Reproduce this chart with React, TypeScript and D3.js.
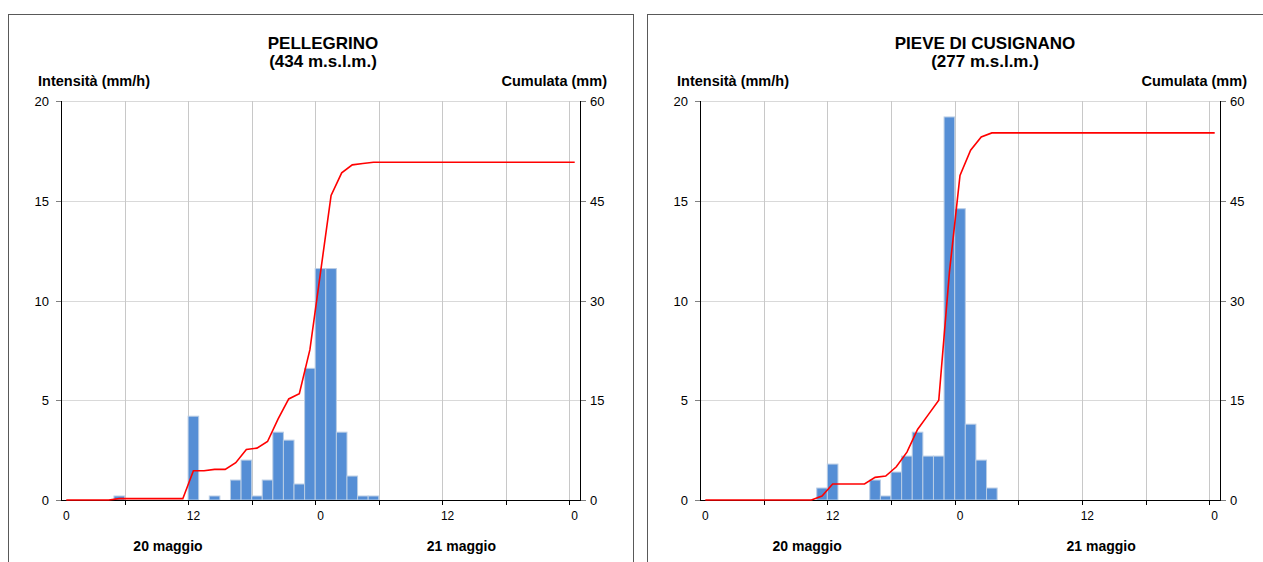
import React, { useEffect, useRef } from "react";
import * as d3 from "d3";

// ore 0..48 (20 maggio 00 -> 22 maggio 00)
const hours = d3.range(49);

const pellegrinoIntensity = [
  0, 0, 0, 0, 0, 0.2, 0, 0, 0, 0, 0, 0,
  4.2, 0, 0.2, 0, 1.0, 2.0, 0.2, 1.0, 3.4, 3.0, 0.8, 6.6,
  11.6, 11.6, 3.4, 1.2, 0.2, 0.2, 0, 0, 0, 0, 0, 0,
  0, 0, 0, 0, 0, 0, 0, 0, 0, 0, 0, 0,
  0,
];
const pellegrinoCumulata = [
  0, 0, 0, 0, 0, 0.2, 0.2, 0.2, 0.2, 0.2, 0.2, 0.2,
  4.4, 4.4, 4.6, 4.6, 5.6, 7.6, 7.8, 8.8, 12.2, 15.2, 16.0, 22.6,
  34.2, 45.8, 49.2, 50.4, 50.6, 50.8, 50.8, 50.8, 50.8, 50.8, 50.8, 50.8,
  50.8, 50.8, 50.8, 50.8, 50.8, 50.8, 50.8, 50.8, 50.8, 50.8, 50.8, 50.8,
  50.8,
];

const pieveIntensity = [
  0, 0, 0, 0, 0, 0, 0, 0, 0, 0, 0, 0.6,
  1.8, 0, 0, 0, 1.0, 0.2, 1.4, 2.2, 3.4, 2.2, 2.2, 19.2,
  14.6, 3.8, 2.0, 0.6, 0, 0, 0, 0, 0, 0, 0, 0,
  0, 0, 0, 0, 0, 0, 0, 0, 0, 0, 0, 0,
  0,
];
const pieveCumulata = [
  0, 0, 0, 0, 0, 0, 0, 0, 0, 0, 0, 0.6,
  2.4, 2.4, 2.4, 2.4, 3.4, 3.6, 5.0, 7.2, 10.6, 12.8, 15.0, 34.2,
  48.8, 52.6, 54.6, 55.2, 55.2, 55.2, 55.2, 55.2, 55.2, 55.2, 55.2, 55.2,
  55.2, 55.2, 55.2, 55.2, 55.2, 55.2, 55.2, 55.2, 55.2, 55.2, 55.2, 55.2,
  55.2,
];

const hourTicks = [0, 12, 24, 36, 48];
const hourTickLabels = ["0", "12", "0", "12", "0"];
const leftTicks = [0, 5, 10, 15, 20];
const rightTicks = [0, 15, 30, 45, 60];
const dayLabels = ["20 maggio", "21 maggio"];
const dayLabelHours = [10.1, 37.8];

const FONT = "'Liberation Sans', Arial, sans-serif";

const Panel = ({ svg, title, quota, intensity, cumulata, x0, x1, titleX, frameX }) => {
  const top = 101;
  const bottom = 500;

  const x = d3.scaleLinear().domain([0, 49]).range([x0, x1]);
  const y = d3.scaleLinear().domain([0, 20]).range([bottom, top]);
  const y2 = d3.scaleLinear().domain([0, 60]).range([bottom, top]);

  const g = svg.append("g");

  // cornice
  g.append("rect")
    .attr("x", frameX + 0.5)
    .attr("y", 14.5)
    .attr("width", 625)
    .attr("height", 600)
    .attr("fill", "white")
    .attr("stroke", "#595959");

  // titolo
  g.append("text")
    .attr("x", titleX)
    .attr("y", 49)
    .attr("text-anchor", "middle")
    .style("font", `bold 17px ${FONT}`)
    .text(title);
  g.append("text")
    .attr("x", titleX)
    .attr("y", 67)
    .attr("text-anchor", "middle")
    .style("font", `bold 17px ${FONT}`)
    .text(quota);

  g.append("text")
    .attr("x", x0 - 23)
    .attr("y", 86)
    .style("font", `bold 14.5px ${FONT}`)
    .text("Intensità (mm/h)");
  g.append("text")
    .attr("x", x1 + 27)
    .attr("y", 86)
    .attr("text-anchor", "end")
    .style("font", `bold 14.5px ${FONT}`)
    .text("Cumulata (mm)");

  // griglia orizzontale
  g.selectAll(".hgrid")
    .data(leftTicks.slice(1))
    .enter()
    .append("line")
    .attr("x1", x0)
    .attr("x2", x1)
    .attr("y1", (d) => Math.round(y(d)) + 0.5)
    .attr("y2", (d) => Math.round(y(d)) + 0.5)
    .attr("stroke", "#d9d9d9");

  // griglia verticale ogni 6 ore
  g.selectAll(".vgrid")
    .data(d3.range(6, 49, 6))
    .enter()
    .append("line")
    .attr("x1", (d) => Math.round(x(d)) + 0.5)
    .attr("x2", (d) => Math.round(x(d)) + 0.5)
    .attr("y1", top)
    .attr("y2", bottom)
    .attr("stroke", "#c8c8c8");

  // barre intensità
  const bw = x(1) - x(0);
  g.selectAll(".bar")
    .data(hours.filter((h) => intensity[h] > 0))
    .enter()
    .append("rect")
    .attr("x", (h) => x(h))
    .attr("width", bw)
    .attr("y", (h) => y(intensity[h]))
    .attr("height", (h) => bottom - y(intensity[h]))
    .attr("fill", "#558ed5")
    .attr("stroke", "#b9cde5")
    .attr("stroke-width", 1);

  // assi
  g.append("line")
    .attr("x1", x0 + 0.5).attr("x2", x0 + 0.5)
    .attr("y1", top).attr("y2", bottom)
    .attr("stroke", "black");
  g.append("line")
    .attr("x1", x1 + 0.5).attr("x2", x1 + 0.5)
    .attr("y1", top).attr("y2", bottom)
    .attr("stroke", "black");
  g.append("line")
    .attr("x1", x0).attr("x2", x1 + 1)
    .attr("y1", bottom + 0.5).attr("y2", bottom + 0.5)
    .attr("stroke", "black");

  // tacche asse sinistro
  leftTicks.forEach((t) => {
    const yy = Math.round(y(t)) + 0.5;
    g.append("line")
      .attr("x1", x0 - 5).attr("x2", x0)
      .attr("y1", yy).attr("y2", yy)
      .attr("stroke", "#808080");
    g.append("text")
      .attr("x", x0 - 12)
      .attr("y", yy + 4.5)
      .attr("text-anchor", "end")
      .style("font", `13px ${FONT}`)
      .text(t);
  });

  // tacche asse destro
  rightTicks.forEach((t) => {
    const yy = Math.round(y2(t)) + 0.5;
    g.append("line")
      .attr("x1", x1 + 1).attr("x2", x1 + 6)
      .attr("y1", yy).attr("y2", yy)
      .attr("stroke", "#808080");
    g.append("text")
      .attr("x", x1 + 10)
      .attr("y", yy + 4.5)
      .style("font", `13px ${FONT}`)
      .text(t);
  });

  // tacche asse orizzontale
  g.selectAll(".xtick")
    .data(d3.range(6, 49, 6))
    .enter()
    .append("line")
    .attr("x1", (d) => Math.round(x(d)) + 0.5)
    .attr("x2", (d) => Math.round(x(d)) + 0.5)
    .attr("y1", bottom)
    .attr("y2", bottom + 5)
    .attr("stroke", "black");

  hourTicks.forEach((h, i) => {
    g.append("text")
      .attr("x", x(h + 0.5))
      .attr("y", 520)
      .attr("text-anchor", "middle")
      .style("font", `12px ${FONT}`)
      .text(hourTickLabels[i]);
  });

  dayLabels.forEach((lab, i) => {
    g.append("text")
      .attr("x", x(dayLabelHours[i]))
      .attr("y", 551)
      .attr("text-anchor", "middle")
      .style("font", `bold 14px ${FONT}`)
      .text(lab);
  });

  // linea cumulata
  const line = d3
    .line()
    .x((h) => x(h + 0.5))
    .y((h) => y2(cumulata[h]));

  g.append("path")
    .datum(hours)
    .attr("d", line)
    .attr("fill", "none")
    .attr("stroke", "#ff0000")
    .attr("stroke-width", 1.6);
};

const App = () => {
  const svgRef = useRef(null);

  useEffect(() => {
    const svg = d3.select(svgRef.current);
    svg.selectAll("*").remove();

    svg.append("rect").attr("width", 1263).attr("height", 562).attr("fill", "white");

    Panel({
      svg,
      title: "PELLEGRINO",
      quota: "(434 m.s.l.m.)",
      intensity: pellegrinoIntensity,
      cumulata: pellegrinoCumulata,
      x0: 61,
      x1: 580,
      titleX: 323,
      frameX: 8,
    });

    Panel({
      svg,
      title: "PIEVE DI CUSIGNANO",
      quota: "(277 m.s.l.m.)",
      intensity: pieveIntensity,
      cumulata: pieveCumulata,
      x0: 700,
      x1: 1220,
      titleX: 985,
      frameX: 647,
    });
  }, []);

  return (
    <svg
      ref={svgRef}
      width={1263}
      height={562}
      style={{ position: "absolute", left: 0, top: 0 }}
    />
  );
};

export default App;
